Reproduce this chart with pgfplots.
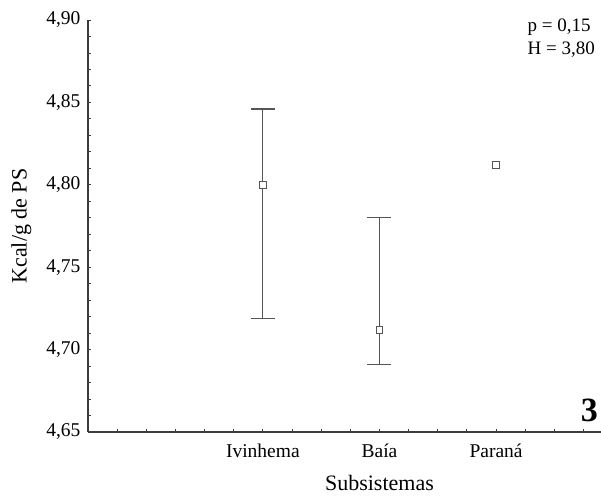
\documentclass[border=0pt]{standalone}
\usepackage{fontspec}
\setmainfont{Liberation Serif}
\usepackage{pgfplots}
\pgfplotsset{compat=1.18}

\definecolor{axisgray}{RGB}{60,60,60}
\definecolor{bargray}{RGB}{85,85,85}

\begin{document}
\begin{tikzpicture}
\begin{axis}[
    scale only axis,
    width=513pt, height=412pt,
    xmin=-0.5, xmax=3.9,
    ymin=4.65, ymax=4.90,
    axis lines=left,
    axis line style={-, axisgray, line width=1.1pt},
    clip=false,
    xtick={1,2,3},
    xticklabels={Ivinhema,Baía,Paraná},
    minor xtick={-0.25,0,0.25,...,3.75},
    ytick={4.65,4.70,...,4.90},
    minor y tick num=4,
    tick align=inside,
    major tick length=3pt, minor tick length=3pt,
    tick style={axisgray, line width=0.9pt},
    /pgf/number format/assume math mode=true,
    yticklabel style={xshift=-4pt, /pgf/number format/.cd, fixed, fixed zerofill, precision=2, use comma},
    xticklabel style={yshift=-8pt},
    ticklabel style={font=\fontsize{19.5}{21}\selectfont},
    label style={font=\fontsize{22}{25}\selectfont},
    xlabel={Subsistemas},
    ylabel={Kcal/g de PS},
    xlabel style={at={(axis cs:2,4.65)}, anchor=center, yshift=-51pt},
    ylabel style={at={(axis description cs:-0.13,0.5)}, anchor=center},
]
\addplot[bargray, line width=1.2pt, only marks,
    mark=square*, mark size=3.3pt, mark options={fill=white, draw=bargray, line width=1.2pt},
    error bars/.cd, y dir=both, y explicit,
    error bar style={bargray, line width=1.2pt},
    error mark options={bargray, line width=1.2pt, mark size=12pt, rotate=90}]
coordinates {
    (1,4.800) += (0,0.046) -= (0,0.081)
    (2,4.712) += (0,0.068) -= (0,0.021)
};
\addplot[only marks, mark=square*, mark size=3.3pt,
    mark options={fill=white, draw=bargray, line width=1.2pt}]
coordinates {(3,4.812)};

\node[anchor=north east, align=left, inner sep=0pt, xshift=-6pt, yshift=1pt,
    font=\fontsize{19}{23}\selectfont] at (rel axis cs:1,1) {p = 0,15\\H = 3,80};
\node[anchor=south east, inner sep=0pt, xshift=-3pt, yshift=10pt,
    font=\fontsize{34}{36}\selectfont\bfseries] at (rel axis cs:1,0) {3};
\coordinate (bl) at (rel axis cs:0,0);
\coordinate (tr) at (rel axis cs:1,1);
\end{axis}
\pgfresetboundingbox
\useasboundingbox (bl) ++(-88pt,-63pt) rectangle ([yshift=20pt]tr);
\end{tikzpicture}
\end{document}
